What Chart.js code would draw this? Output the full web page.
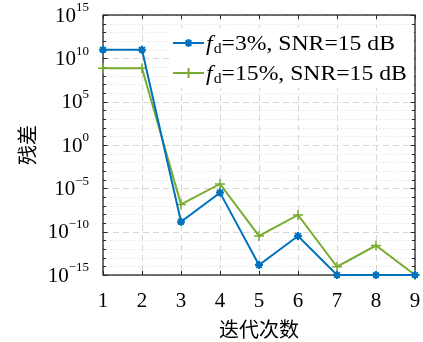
<!DOCTYPE html>
<html>
<head>
<meta charset="utf-8">
<script src="https://cdn.jsdelivr.net/npm/chart.js@4.4.1/dist/chart.umd.min.js"></script>
<style>
html,body{margin:0;padding:0;background:#fff;}
#wrap{width:423px;height:342px;}
</style>
</head>
<body>
<div id="wrap"><canvas id="c" width="423" height="342"></canvas></div>
<script>
const categories = ['1','2','3','4','5','6','7','8','9'];
const seriesBlue = [1e11, 1e11, 1.4e-9, 3.2e-6, 1.4e-14, 3.2e-11, 1e-15, 1e-15, 1e-15];
const seriesGreen = [7e8, 7e8, 1.4e-7, 3.2e-5, 3.2e-11, 8.5e-9, 9e-15, 2.5e-12, 1e-15];
const yTickExponents = [15, 10, 5, 0, -5, -10, -15];
const legendLabels = [{pct:'3%'}, {pct:'15%'}];
const xTitle = '迭代次数';
const yTitle = '残差';

const BLUE = '#0072BD', GREEN = '#77AC30', AXIS = '#262626';
const SERIF = '"Liberation Serif","DejaVu Serif",serif';
const CJK = '"Noto Sans CJK SC",sans-serif';

const decorPlugin = {
  id: 'decor',
  beforeDatasetsDraw(chart) {
    const ctx = chart.ctx, a = chart.chartArea, xs = chart.scales.x, ys = chart.scales.y;
    ctx.save();
    ctx.lineWidth = 1;
    ctx.strokeStyle = '#e6e6e6';
    ctx.setLineDash([1.5, 2]);
    for (let e = -15; e <= 15; e++) {
      if (e % 5 === 0) continue;
      const y = Math.round(ys.getPixelForValue(Math.pow(10, e))) + 0.5;
      ctx.beginPath(); ctx.moveTo(a.left, y); ctx.lineTo(a.right, y); ctx.stroke();
    }
    ctx.strokeStyle = '#d6d6d6';
    ctx.setLineDash([6, 4]);
    yTickExponents.forEach(e => {
      const y = Math.round(ys.getPixelForValue(Math.pow(10, e))) + 0.5;
      ctx.beginPath(); ctx.moveTo(a.left, y); ctx.lineTo(a.right, y); ctx.stroke();
    });
    categories.forEach((c, i) => {
      const x = Math.round(xs.getPixelForValue(i)) + 0.5;
      ctx.beginPath(); ctx.moveTo(x, a.top); ctx.lineTo(x, a.bottom); ctx.stroke();
    });
    ctx.setLineDash([]);
    ctx.strokeStyle = AXIS;
    ctx.lineWidth = 1.3;
    ctx.strokeRect(a.left, a.top, a.right - a.left, a.bottom - a.top);
    ctx.lineWidth = 1;
    categories.forEach((c, i) => {
      const x = Math.round(xs.getPixelForValue(i)) + 0.5;
      ctx.beginPath(); ctx.moveTo(x, a.bottom); ctx.lineTo(x, a.bottom - 4);
      ctx.moveTo(x, a.top); ctx.lineTo(x, a.top + 4); ctx.stroke();
    });
    for (let e = -15; e <= 15; e++) {
      const y = Math.round(ys.getPixelForValue(Math.pow(10, e))) + 0.5;
      const len = (e % 5 === 0) ? 4.5 : 3;
      ctx.beginPath(); ctx.moveTo(a.left, y); ctx.lineTo(a.left + len, y);
      ctx.moveTo(a.right, y); ctx.lineTo(a.right - len, y); ctx.stroke();
    }
    ctx.restore();
  },
  afterDraw(chart) {
    const ctx = chart.ctx, a = chart.chartArea, xs = chart.scales.x, ys = chart.scales.y;
    ctx.save();
    ctx.fillStyle = '#000';
    ctx.font = '21px ' + SERIF;
    ctx.textAlign = 'center'; ctx.textBaseline = 'middle';
    categories.forEach((c, i) => {
      ctx.fillText(c, xs.getPixelForValue(i), 301);
    });
    yTickExponents.forEach(e => {
      const y = ys.getPixelForValue(Math.pow(10, e));
      const sup = e < 0 ? '\u2212' + Math.abs(e) : String(e);
      ctx.font = '13px ' + SERIF;
      const ws = ctx.measureText(sup).width;
      ctx.font = '21px ' + SERIF;
      const wb = ctx.measureText('10').width;
      const right = 89;
      ctx.textAlign = 'left'; ctx.textBaseline = 'middle';
      ctx.fillText('10', right - ws - wb, y + 1);
      ctx.font = '13px ' + SERIF;
      ctx.fillText(sup, right - ws, y - 7);
    });
    ctx.font = '20px ' + CJK;
    ctx.textAlign = 'center'; ctx.textBaseline = 'middle';
    ctx.fillText(xTitle, (a.left + a.right) / 2, 329);
    ctx.save();
    ctx.translate(27, (a.top + a.bottom) / 2);
    ctx.rotate(-Math.PI / 2);
    ctx.fillText(yTitle, 0, 0);
    ctx.restore();
    // legend
    ctx.fillStyle = '#fff';
    ctx.fillRect(169, 28, a.right - 170, 60);
    const rows = [
      {y: 43, color: BLUE, style: 'star', pct: legendLabels[0].pct},
      {y: 73, color: GREEN, style: 'cross', pct: legendLabels[1].pct}
    ];
    // horizontal stretch so that row 1 text spans x 206..395 like the reference
    ctx.font = 'italic 21px ' + SERIF;
    const wf = ctx.measureText('f').width + 1;
    ctx.font = '14px ' + SERIF;
    const wd = ctx.measureText('d').width;
    ctx.font = '21px ' + SERIF;
    const wr = ctx.measureText('=' + rows[0].pct + ', SNR=15 dB').width;
    const k = (395 - 206) / (wf + wd + wr);
    rows.forEach(r => {
      ctx.strokeStyle = r.color; ctx.lineWidth = 2;
      ctx.beginPath(); ctx.moveTo(173, r.y); ctx.lineTo(204, r.y); ctx.stroke();
      Chart.helpers.drawPoint(ctx, {pointStyle: r.style, radius: r.style === 'star' ? 4 : 5, borderWidth: r.style === 'star' ? 2 : 1.5}, 188.5, r.y);
      ctx.save();
      ctx.translate(206, 0);
      ctx.scale(k, 1);
      ctx.fillStyle = '#000';
      ctx.textAlign = 'left'; ctx.textBaseline = 'middle';
      let x = 0;
      ctx.font = 'italic 21px ' + SERIF;
      ctx.fillText('f', x, r.y + 1); x += wf;
      ctx.font = '14px ' + SERIF;
      ctx.fillText('d', x, r.y + 6); x += wd;
      ctx.font = '21px ' + SERIF;
      ctx.fillText('=' + r.pct + ', SNR=15 dB', x, r.y + 1);
      ctx.restore();
    });
    ctx.restore();
  }
};

new Chart(document.getElementById('c'), {
  type: 'line',
  data: {
    labels: categories,
    datasets: [
      {label: 'blue', data: seriesBlue, borderColor: BLUE, backgroundColor: BLUE, borderWidth: 2,
       pointStyle: 'star', pointRadius: 4, pointBorderWidth: 2, pointBorderColor: BLUE, clip: false, tension: 0},
      {label: 'green', data: seriesGreen, borderColor: GREEN, backgroundColor: GREEN, borderWidth: 2,
       pointStyle: 'cross', pointRadius: 5, pointBorderWidth: 1.5, pointBorderColor: GREEN, clip: false, tension: 0}
    ]
  },
  options: {
    responsive: false,
    animation: false,
    layout: {padding: {left: 103, right: 8, top: 15, bottom: 67}},
    plugins: {legend: {display: false}, tooltip: {enabled: false}},
    scales: {
      x: {type: 'category', display: false, offset: false},
      y: {type: 'logarithmic', display: false, min: 1e-15, max: 1e15}
    }
  },
  plugins: [decorPlugin]
});
</script>
</body>
</html>
